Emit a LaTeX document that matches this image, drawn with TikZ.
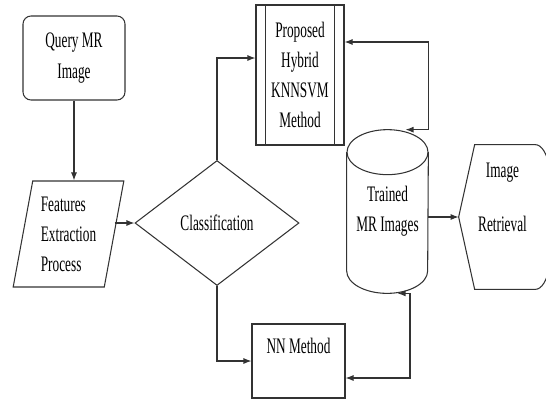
\documentclass[tikz,border=0pt]{standalone}
\usepackage{fontspec}
\setmainfont{Liberation Serif}[FakeStretch=0.6]
\usepackage{xcolor}
\usepackage{tikz}
\usetikzlibrary{arrows.meta, positioning, calc, shapes.geometric}

\begin{document}
\begin{tikzpicture}[
    font=\fontsize{12.6}{17}\selectfont,
    garis/.style={draw=black!80, line width=0.6pt},
    kotak/.style={garis, minimum width=1.86cm, minimum height=1.48cm, align=center},
    kotakbulat/.style={kotak, rounded corners=0.16cm, minimum width=2.04cm,
                       minimum height=1.68cm},
    jajar/.style={garis, trapezium, trapezium left angle=78, trapezium right angle=102,
                  trapezium stretches=true, minimum width=2.22cm, minimum height=2.12cm,
                  align=left},
    ketupat/.style={garis, diamond, aspect=1.3, minimum width=3.28cm, minimum height=2.5cm},
    panah/.style={garis, -{Latex[length=1.6mm]}},
    panahdua/.style={garis, {Latex[length=1.6mm]}-{Latex[length=1.6mm]}}
  ]
    \useasboundingbox (0,0) rectangle (10.92,8.04);

    \node[kotakbulat] (kueri) at (1.48,6.88) {Query MR\\[1pt]Image};
    \node[jajar] (fitur) at (1.37,3.36) {Features\\Extraction\\Process};
    \node[ketupat] (klas) at (4.34,3.58) {Classification\\[-6pt]\mbox{}};
    \node[kotak, minimum width=1.76cm, minimum height=2.8cm] (usulan) at (6.0,6.54)
        {Proposed\\Hybrid\\KNNSVM\\Method};
    \draw[garis] ([xshift=0.2cm]usulan.north west) -- ([xshift=0.2cm]usulan.south west)
                 ([xshift=-0.2cm]usulan.north east) -- ([xshift=-0.2cm]usulan.south east);
    \node[kotak] (nn) at (5.97,0.82) {NN Method\\\mbox{}};

    \node[align=center, minimum width=1.62cm, minimum height=3.26cm] (latih) at (7.75,3.81)
        {Trained\\MR Images};
    \draw[garis] ([yshift=-0.45cm]latih.north west) -- ([yshift=0.45cm]latih.south west)
        arc[start angle=180, end angle=360, x radius=0.81cm, y radius=0.45cm]
        -- ([yshift=-0.45cm]latih.north east);
    \draw[garis] ([yshift=-0.45cm]latih.north) ellipse [x radius=0.81cm, y radius=0.45cm];

    \node[align=center, minimum width=1.74cm, minimum height=2.88cm] (temu) at (10.05,3.70)
        {Image\\[0.48cm]Retrieval\\[0.2cm]\mbox{}};
    \draw[garis] (temu.west) -- ([xshift=0.32cm]temu.north west)
        -- ([xshift=-0.22cm]temu.north east)
        .. controls ([xshift=0.3cm]temu.north east) and ([xshift=0.3cm]temu.south east)
        .. ([xshift=-0.22cm]temu.south east)
        -- ([xshift=0.32cm]temu.south west) -- cycle;

    \draw[panah] (kueri.south) -- (kueri.south |- fitur.north);
    \draw[panah] (klas.west -| fitur.east) -- (klas.west);
    \draw[panah] (klas.north) |- ([yshift=0.34cm]usulan.west);
    \draw[panah] (klas.south) |- (nn.west);
    \draw[panah] (latih.east |- temu.west) -- (temu.west);
    \draw[panahdua] ([yshift=0.66cm]usulan.east) -| (latih.north east)
        -- ([xshift=0.36cm]latih.north);
    \draw[panahdua] ([yshift=-0.34cm]nn.east) -| ([xshift=0.45cm]latih.south)
        -- ([xshift=0.2cm]latih.south);
  \end{tikzpicture}
\end{document}
